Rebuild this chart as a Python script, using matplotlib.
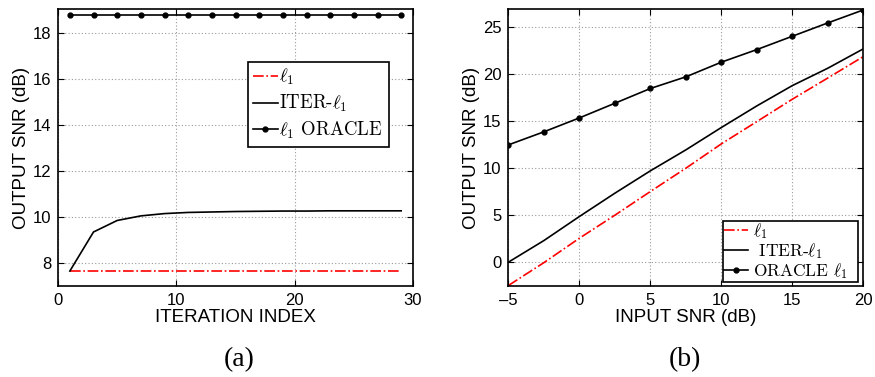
import numpy as np
import matplotlib
matplotlib.use("Agg")
import matplotlib.pyplot as plt

plt.rcParams['font.family'] = ['Liberation Sans', 'DejaVu Sans']
plt.rcParams['mathtext.fontset'] = 'cm'
plt.rcParams['axes.unicode_minus'] = False

# ---- panel (a) data ----
iter_idx = [1, 3, 5, 7, 9, 11, 13, 15, 17, 19, 21, 23, 25, 27, 29]
a_l1 = [7.65] * 15
a_iter = [7.65, 9.35, 9.85, 10.05, 10.15, 10.2, 10.22, 10.24, 10.25, 10.26, 10.26, 10.27, 10.27, 10.27, 10.27]
a_oracle = [18.78] * 15

# ---- panel (b) data ----
input_snr = [-5, -2.5, 0, 2.5, 5, 7.5, 10, 12.5, 15, 17.5, 20]
b_l1 = [-2.48, -0.05, 2.55, 5.0, 7.52, 10.0, 12.59, 14.96, 17.34, 19.6, 21.88]
b_iter = [0.0, 2.3, 4.86, 7.34, 9.72, 11.95, 14.33, 16.63, 18.79, 20.64, 22.70]
b_oracle = [12.48, 13.87, 15.35, 16.91, 18.48, 19.72, 21.28, 22.62, 24.04, 25.46, 26.84]

labels_a = [r'$\ell_1$', r'ITER-$\ell_1$', r'$\ell_1$ ORACLE']
labels_b = [r'$\ell_1$', r' ITER-$\ell_1$', r'ORACLE $\ell_1$']

fig = plt.figure(figsize=(8.75, 3.77), dpi=100)
ax1 = fig.add_axes([0.0663, 0.2414, 0.4057, 0.7347])
ax2 = fig.add_axes([0.581, 0.2422, 0.4057, 0.733])

lw = 1.2
tick_fs = 12
label_fs = 13.5
leg_fs = 13.5

def style(ax):
    ax.grid(True, linestyle=(0, (1, 2)), color='#9a9a9a', linewidth=0.8)
    ax.tick_params(direction='in', top=True, right=True, labelsize=tick_fs, length=4, width=0.8, pad=5)
    for s in ax.spines.values():
        s.set_linewidth(1.2)

# panel a
ax1.plot(iter_idx, a_l1, color='red', linestyle='-.', linewidth=lw, label=labels_a[0])
ax1.plot(iter_idx, a_iter, color='black', linestyle='-', linewidth=lw, label=labels_a[1])
ax1.plot(iter_idx, a_oracle, color='black', linestyle='-', marker='o', markersize=3.5, linewidth=lw, label=labels_a[2])
ax1.set_xlim(0, 30)
ax1.set_ylim(7, 19.05)
ax1.set_xticks([0, 10, 20, 30])
ax1.set_yticks([8, 10, 12, 14, 16, 18])
style(ax1)
ax1.set_xlabel('ITERATION INDEX', fontsize=label_fs, labelpad=1)
ax1.set_ylabel('OUTPUT SNR (dB)', fontsize=label_fs, labelpad=2)
leg1 = ax1.legend(loc='upper left', bbox_to_anchor=(0.534, 0.81, 0.398, 0.0), mode='expand',
                  prop={'family': 'cmr10', 'size': leg_fs}, handlelength=1.3, handletextpad=0.1,
                  labelspacing=0.3, borderpad=0.3, borderaxespad=0.0,
                  fancybox=False, framealpha=1, edgecolor='black')
leg1.get_frame().set_linewidth(1.2)

# panel b
ax2.plot(input_snr, b_l1, color='red', linestyle='-.', linewidth=lw, label=labels_b[0])
ax2.plot(input_snr, b_iter, color='black', linestyle='-', linewidth=lw, label=labels_b[1])
ax2.plot(input_snr, b_oracle, color='black', linestyle='-', marker='o', markersize=3.5, linewidth=lw, label=labels_b[2])
ax2.set_xlim(-5, 20)
ax2.set_ylim(-2.5, 26.9)
ax2.set_xticks([-5, 0, 5, 10, 15, 20])
ax2.set_xticklabels(['\u20135', '0', '5', '10', '15', '20'])
ax2.set_yticks([0, 5, 10, 15, 20, 25])
style(ax2)
ax2.set_xlabel('INPUT SNR (dB)', fontsize=label_fs, labelpad=1)
ax2.set_ylabel('OUTPUT SNR (dB)', fontsize=label_fs, labelpad=2)
leg2 = ax2.legend(loc='lower left', bbox_to_anchor=(0.604, 0.013, 0.381, 0.0), mode='expand',
                  prop={'family': 'cmr10', 'size': 12.5}, handlelength=1.4, handletextpad=0.3,
                  labelspacing=0.0, borderpad=0.05, borderaxespad=0.0,
                  fancybox=False, framealpha=1, edgecolor='black')
leg2.get_frame().set_linewidth(1.2)
for t in leg2.get_texts():
    t.set_clip_on(True)
    t.set_clip_path(leg2.get_frame())

fig.text(0.273, 0.045, '(a)', fontsize=20, family='Liberation Serif', ha='center', va='center')
fig.text(0.783, 0.045, '(b)', fontsize=20, family='Liberation Serif', ha='center', va='center')

fig.savefig('out.png', dpi=100)
